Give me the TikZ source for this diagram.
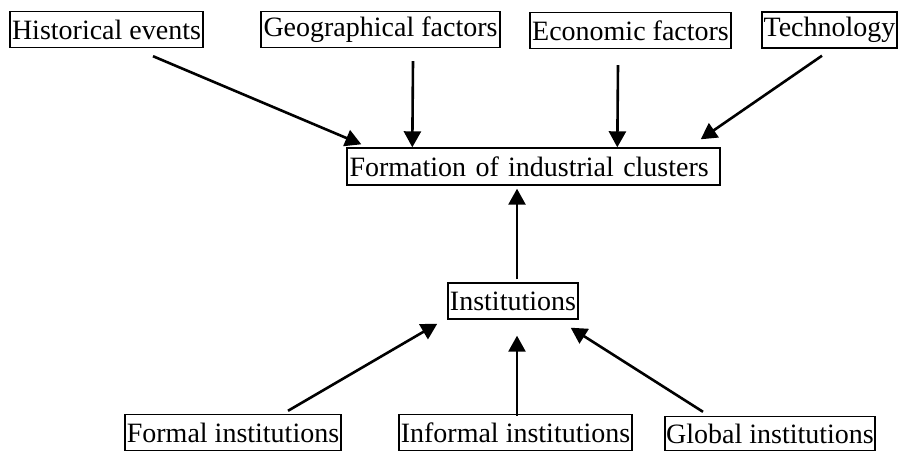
\documentclass[tikz,border=0pt]{standalone}
\usepackage{fontspec}
\setmainfont{Liberation Serif}
\usetikzlibrary{arrows.meta,calc}
\tikzset{
  box/.style={draw, line width=0.7pt, inner xsep=0.5pt, inner ysep=0pt,
    minimum height=18pt, font=\fontsize{14}{16}\selectfont},
  arr/.style={line width=1.3pt, -{Triangle[length=8pt,width=8.5pt]}}
}
\begin{document}
\begin{tikzpicture}[x=0.5pt,y=-0.5pt]
\useasboundingbox (0,0) rectangle (899,451);
% top row of factors
\node[box, minimum width=96.5pt]  (hist) at (106.5,29.5) {Historical events};
\node[box, minimum width=119.5pt] (geo)  at (380.5,29.5) {Geographical factors};
\node[box, minimum width=100.5pt] (econ) at (630.5,30.5) {Economic factors};
\node[box, minimum width=67.5pt]  (tech) at (829.5,30)   {Technology};
% central outcome
\node[box, text width=184pt, align=left, inner xsep=1.25pt, minimum height=18.5pt]
  (form) at (533.5,166.5) {Formation of industrial clusters};
% institutions and their kinds
\node[box, minimum width=65pt]    (inst)     at (513,301)     {Institutions};
\node[box, minimum width=108pt]   (formal)   at (233,432.5)   {Formal institutions};
\node[box, minimum width=116.5pt] (informal) at (515.5,432.5) {Informal institutions};
\node[box, minimum width=105pt, minimum height=17pt] (global) at (770,433.5) {Global institutions};
% factors feeding cluster formation
\draw[arr] ($(hist.south)+(46.5,8)$)   -- ($(form.north west)+(15,-3)$);
\draw[arr] ($(geo.south)+(32.5,13)$)   -- ($(form.north west)+(66,0)$);
\draw[arr] ($(econ.south)+(-12.5,16)$) -- ($(form.north west)+(271,0)$);
\draw[arr] ($(tech.south)+(-7.5,7)$)   -- ($(form.north east)+(-20,-8)$);
% institutions feeding cluster formation
\draw[arr] ($(inst.north)+(4,-3)$)     -- ($(form.south)+(-16.5,3)$);
% kinds of institutions
\draw[arr] ($(formal.north)+(55,-3)$)   -- ($(inst.south west)+(-10,4)$);
\draw[arr] ($(informal.north)+(1.5,2)$) -- ($(inst.south)+(4,16)$);
\draw[arr] ($(global.north)+(-67,-4)$)  -- ($(inst.south east)+(-8,8)$);
\end{tikzpicture}
\end{document}
